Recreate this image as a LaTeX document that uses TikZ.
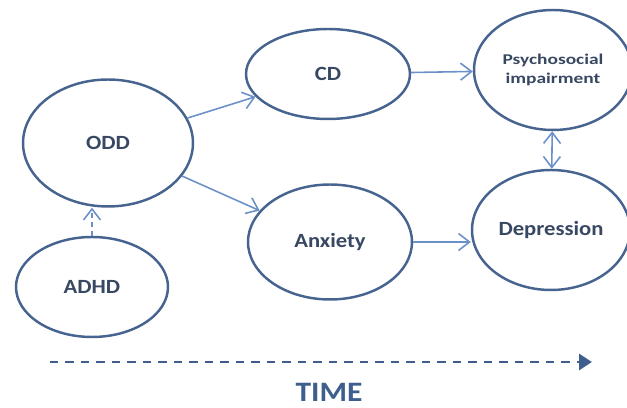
\documentclass[tikz,border=0pt]{standalone}
\usepackage{fontspec}
\setmainfont{Carlito}[FakeStretch=1.12]
\newfontfamily\widefont{Carlito}[FakeStretch=1.3]
\usepackage{xcolor}
\usetikzlibrary{shapes.geometric, arrows.meta, positioning}

\definecolor{rimblue}{HTML}{46648F}
\definecolor{linkblue}{HTML}{6C91C8}
\definecolor{textnavy}{HTML}{384862}
\definecolor{timeblue}{HTML}{3E5F8E}

\begin{document}
\begin{tikzpicture}[
    x=0.02cm, y=-0.02cm,
    stage/.style={ellipse, draw=rimblue, line width=1.4pt, inner sep=0pt, align=center,
        font=\bfseries\fontsize{11.5}{12}\selectfont, text=textnavy},
    link/.style={-{Straight Barb[length=2.2mm, width=3.4mm]}, draw=linkblue, line width=0.9pt},
    twolink/.style={{Straight Barb[length=2.2mm, width=3.4mm]}-{Straight Barb[length=2.2mm, width=3.4mm]},
        draw=linkblue, line width=0.9pt},
    timeline/.style={-{Triangle[length=2.6mm, width=3.2mm]}, draw=timeblue, line width=1.7pt,
        dash pattern=on 0.17cm off 0.14cm}
]
\useasboundingbox (0,0) rectangle (627,408);

\node[stage, minimum width=3.4cm, minimum height=2.54cm] (odd) at (108,143) {ODD};
\node[stage, minimum width=3.04cm, minimum height=2.0cm] (adhd) at (92,287) {ADHD};
\node[stage, minimum width=3.28cm, minimum height=1.8cm] (cd) at (328,74) {CD};
\node[stage, minimum width=3.28cm, minimum height=2.3cm] (anx) at (330,242) {Anxiety};
\node[stage, minimum width=3.16cm, minimum height=2.4cm,
    font=\widefont\bfseries\fontsize{8.5}{11}\selectfont] (psy) at (553,70) {Psychosocial\\impairment};
\node[stage, minimum width=3.16cm, minimum height=2.4cm] (dep) at (551,230) {Depression};

\draw[link] (odd) -- (cd);
\draw[link] (odd) -- (anx);
\draw[link] (cd) -- (psy);
\draw[link] (anx.east) -- (anx.east -| dep.west);
\draw[twolink] (psy) -- (dep);
\draw[link, densely dashed] (adhd.north) -- (adhd.north |- odd.south);

% time axis
\coordinate (t0) at (50,362);
\coordinate (t1) at (592,362);
\draw[timeline] (t0) -- (t1);
\node[font=\bfseries\fontsize{16}{17}\selectfont, text=timeblue] (time) at (329,392) {TIME};
\end{tikzpicture}
\end{document}
